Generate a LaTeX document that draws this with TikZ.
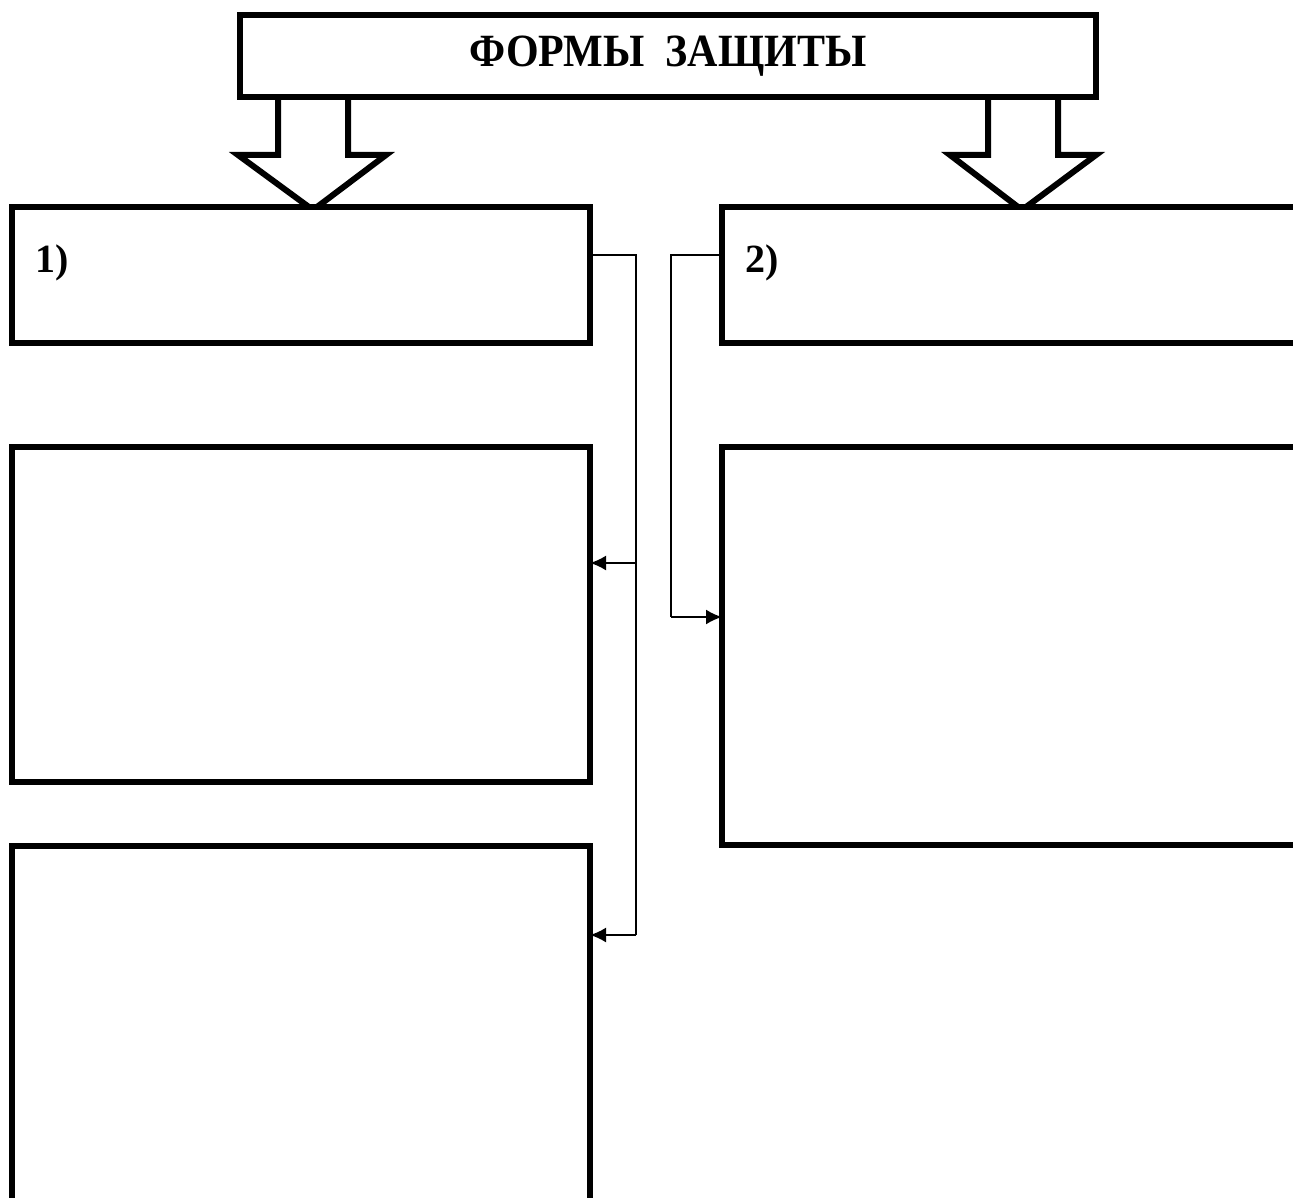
\documentclass[tikz,border=0pt]{standalone}
\usepackage{fontspec}
\setmainfont{Liberation Serif}
\usetikzlibrary{arrows.meta,calc}
\begin{document}
\begin{tikzpicture}[x=1pt,y=-1pt,
  box/.style={draw, line width=6pt, fill=white, inner sep=0pt, outer sep=0pt, anchor=north west},
  bigarrow/.style={draw, line width=6pt, fill=white, line join=miter},
  conn/.style={line width=2pt},
  connarr/.style={line width=2pt, -{Latex[length=16pt,width=15pt]}},
  lbl/.style={font=\fontsize{40}{44}\selectfont\bfseries, anchor=base west, inner sep=0pt}]
\useasboundingbox (0,0) rectangle (1293,1198);
\begin{scope}
\clip (0,0) rectangle (1293,1198);
% block arrows
\draw[bigarrow] (278,90) -- (278,155) -- (238,155) -- (313,210) -- (386,155) -- (348,155) -- (348,90);
\draw[bigarrow] (988,90) -- (988,155) -- (950,155) -- (1022,210) -- (1096,155) -- (1058,155) -- (1058,90);
% title
\node[box, minimum width=856pt, minimum height=82pt] (title) at (240,15) {};
\node[font=\fontsize{42}{46}\selectfont\bfseries, yscale=1.1, anchor=base] (ttext) at (668,67) {ФОРМЫ \ ЗАЩИТЫ};
% boxes
\node[box, minimum width=578pt, minimum height=136pt] (b1) at (12,207) {};
\node[box, minimum width=620pt, minimum height=136pt] (b2) at (722,207) {};
\node[box, minimum width=578pt, minimum height=335pt] (b3) at (12,447) {};
\node[box, minimum width=620pt, minimum height=398pt] (b4) at (722,447) {};
\node[box, minimum width=578pt, minimum height=400pt] (b5) at (12,846) {};
\node[lbl] (l1) at (35,273) {1)};
\node[lbl] (l2) at (745,273) {2)};
% connectors
\coordinate (lt) at (636,255);
\coordinate (lb) at (636,935);
\coordinate (lm) at (636,563);
\draw[conn] (b1.east |- lt) -- (lt) -- (lb);
\draw[connarr] (lm) -- (b3.east |- lm);
\draw[connarr] (lb) -- (b5.east |- lb);
\coordinate (rt) at (671,255);
\coordinate (rb) at (671,617);
\draw[conn] (b2.west |- rt) -- (rt) -- (rb);
\draw[connarr] (rb) -- (b4.west |- rb);
\end{scope}
\end{tikzpicture}
\end{document}
